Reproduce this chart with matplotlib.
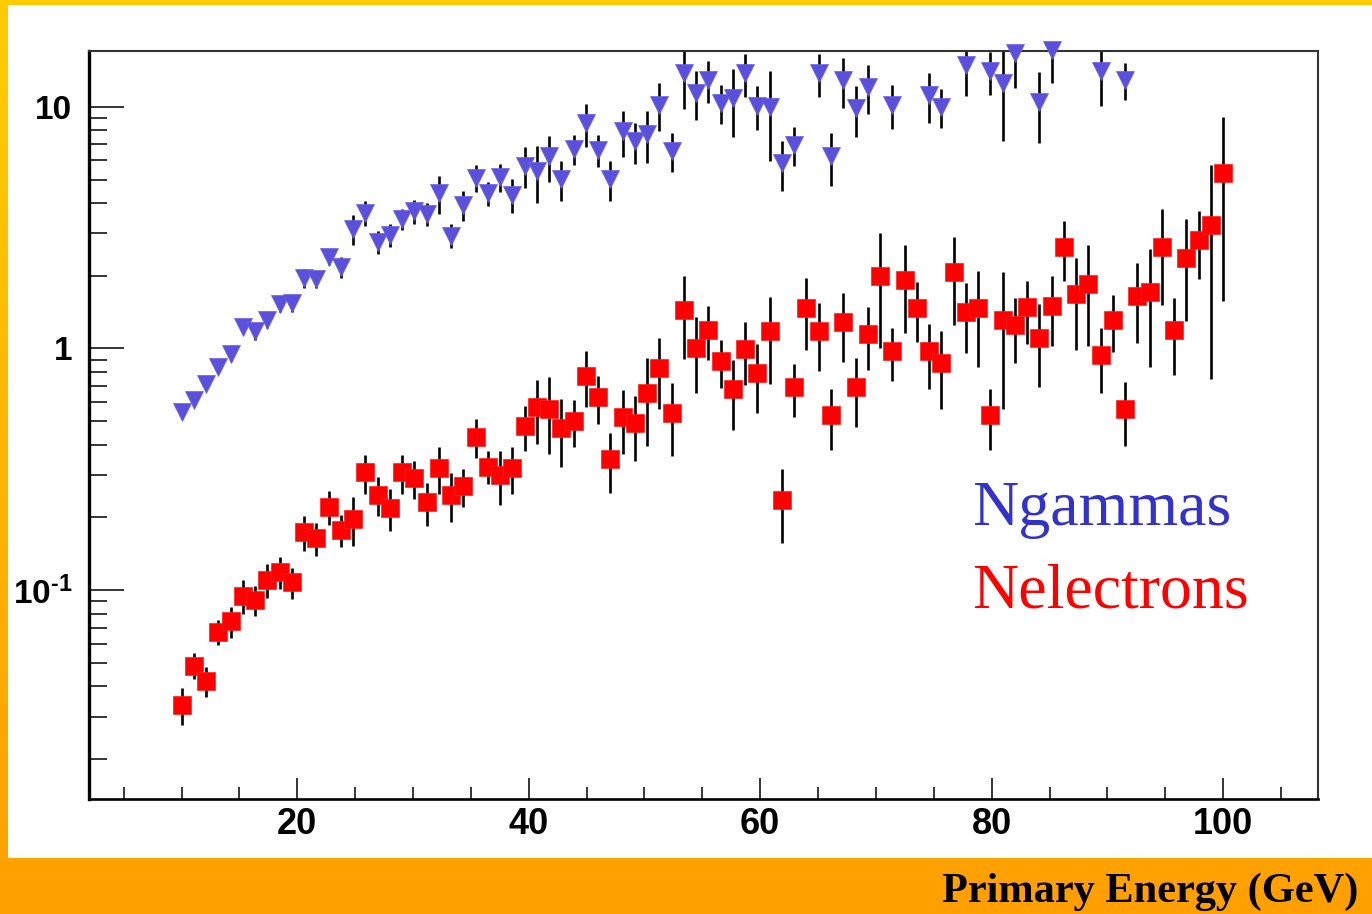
import numpy as np
import matplotlib
matplotlib.use("Agg")
import matplotlib.pyplot as plt
from matplotlib.patches import Rectangle
from matplotlib.ticker import FixedLocator, FixedFormatter, LogLocator, MultipleLocator, NullFormatter

# primary energy (GeV) of each point
energy = [10.00, 11.06, 12.12, 13.18, 14.24, 15.29, 16.35, 17.41, 18.47, 19.53,
          20.59, 21.65, 22.71, 23.76, 24.82, 25.88, 26.94, 28.00, 29.06, 30.12,
          31.18, 32.24, 33.29, 34.35, 35.41, 36.47, 37.53, 38.59, 39.65, 40.71,
          41.76, 42.82, 43.88, 44.94, 46.00, 47.06, 48.12, 49.18, 50.24, 51.29,
          52.35, 53.41, 54.47, 55.53, 56.59, 57.65, 58.71, 59.76, 60.82, 61.88,
          62.94, 64.00, 65.06, 66.12, 67.18, 68.24, 69.29, 70.35, 71.41, 72.47,
          73.53, 74.59, 75.65, 76.71, 77.76, 78.82, 79.88, 80.94, 82.00, 83.06,
          84.12, 85.18, 86.24, 87.29, 88.35, 89.41, 90.47, 91.53, 92.59, 93.65,
          94.71, 95.76, 96.82, 97.88, 98.94, 100.00]

n_electrons = [0.0336, 0.0488, 0.0422, 0.0675, 0.0743, 0.0951, 0.0912, 0.1105, 0.1195, 0.108,
               0.174, 0.164, 0.222, 0.178, 0.198, 0.307, 0.248, 0.219, 0.307, 0.291,
               0.231, 0.320, 0.248, 0.269, 0.432, 0.325, 0.300, 0.320, 0.476, 0.572,
               0.563, 0.471, 0.502, 0.773, 0.629, 0.350, 0.520, 0.491, 0.654, 0.834,
               0.540, 1.446, 1.004, 1.195, 0.884, 0.679, 0.994, 0.791, 1.176, 0.237,
               0.692, 1.469, 1.176, 0.532, 1.293, 0.692, 1.151, 2.00, 0.972, 1.924,
               1.469, 0.972, 0.870, 2.07, 1.414, 1.469, 0.532, 1.314, 1.245, 1.478,
               1.11, 1.506, 2.64, 1.68, 1.853, 0.936, 1.314, 0.561, 1.652, 1.712,
               2.64, 1.195, 2.366, 2.816, 3.25, 5.32]

err_electrons = [0.006, 0.006, 0.006, 0.008, 0.011, 0.015, 0.013, 0.018, 0.018, 0.016,
                 0.028, 0.026, 0.036, 0.027, 0.046, 0.056, 0.046, 0.043, 0.056, 0.052,
                 0.047, 0.071, 0.057, 0.048, 0.079, 0.050, 0.075, 0.071, 0.10, 0.17,
                 0.196, 0.146, 0.111, 0.20, 0.14, 0.097, 0.155, 0.148, 0.26, 0.27,
                 0.18, 0.54, 0.35, 0.30, 0.20, 0.22, 0.29, 0.25, 0.46, 0.08,
                 0.17, 0.48, 0.37, 0.15, 0.41, 0.22, 0.34, 1.0, 0.24, 0.76,
                 0.41, 0.29, 0.31, 0.82, 0.46, 0.63, 0.15, 0.75, 0.37, 0.43,
                 0.42, 0.48, 0.74, 0.69, 0.83, 0.28, 0.35, 0.165, 0.60, 0.87,
                 1.13, 0.42, 1.07, 0.88, 2.5, 3.75]

# gammas: points above the frame are not drawn
gamma_energy = [10.00, 11.06, 12.12, 13.18, 14.24, 15.29, 16.35, 17.41, 18.47, 19.53,
                20.59, 21.65, 22.71, 23.76, 24.82, 25.88, 26.94, 28.00, 29.06, 30.12,
                31.18, 32.24, 33.29, 34.35, 35.41, 36.47, 37.53, 38.59, 39.65, 40.71,
                41.76, 42.82, 43.88, 44.94, 46.00, 47.06, 48.12, 49.18, 50.24, 51.29,
                52.35, 53.41, 54.47, 55.53, 56.59, 57.65, 58.71, 59.76, 60.82, 61.88,
                62.94, 65.06, 66.12, 67.18, 68.24, 69.29, 71.41, 74.59, 75.65, 77.76,
                79.88, 80.94, 82.00, 84.12, 85.18, 89.41, 91.53]

n_gammas = [0.547, 0.613, 0.712, 0.842, 0.948, 1.233, 1.176, 1.314, 1.531, 1.54,
            1.956, 1.94, 2.40, 2.18, 3.12, 3.63, 2.77, 2.95, 3.43, 3.70,
            3.61, 4.39, 2.93, 3.93, 5.07, 4.39, 5.12, 4.32, 5.70, 5.43,
            6.23, 5.02, 6.68, 8.56, 6.64, 5.02, 7.90, 7.19, 7.71, 10.2,
            6.58, 13.8, 11.4, 12.9, 10.4, 10.9, 13.8, 10.1, 10.0, 5.85,
            6.96, 13.8, 6.23, 12.9, 9.88, 12.1, 10.2, 11.2, 10.0, 14.9,
            14.0, 12.5, 16.7, 10.5, 17.2, 14.0, 12.9]

err_gammas = [0.03, 0.03, 0.035, 0.04, 0.06, 0.09, 0.09, 0.095, 0.11, 0.12,
              0.18, 0.16, 0.18, 0.22, 0.45, 0.43, 0.30, 0.33, 0.35, 0.42,
              0.39, 0.8, 0.33, 0.55, 0.65, 0.5, 0.68, 0.7, 1.1, 1.45,
              1.35, 0.95, 0.95, 1.75, 1.0, 0.95, 1.7, 1.4, 1.85, 2.3,
              1.2, 4.0, 2.6, 2.5, 1.9, 3.4, 2.8, 2.1, 4.05, 1.35,
              1.25, 2.8, 1.55, 3.0, 2.35, 2.75, 2.15, 2.65, 1.8, 3.8,
              2.8, 5.3, 4.7, 3.45, 4.7, 3.9, 2.2]

plt.rcParams['mathtext.fontset'] = 'custom'
plt.rcParams['mathtext.rm'] = 'Liberation Sans:bold'
plt.rcParams['mathtext.bf'] = 'Liberation Sans:bold'

W, H = 1372, 914
fig = plt.figure(figsize=(W / 100, H / 100), dpi=100)

# yellow-to-orange frame and white panel
bg = fig.add_axes([0, 0, 1, 1], zorder=-10)
grad = np.linspace(0, 1, 256)[:, None]
top_c = np.array([1.0, 0.80, 0.0])
bot_c = np.array([1.0, 0.627, 0.0])
img = top_c[None, None, :] * (1 - grad[:, :, None]) + bot_c[None, None, :] * grad[:, :, None]
bg.imshow(img, aspect='auto', extent=[0, 1, 0, 1], origin='upper')
bg.add_patch(Rectangle((8 / W, 56 / H), 1 - 8 / W, 853 / H, facecolor='white', edgecolor='none'))
bg.set_xlim(0, 1)
bg.set_ylim(0, 1)
bg.axis('off')

ax = fig.add_axes([89 / W, 1 - 799 / H, (1318 - 89) / W, (799 - 51) / H])
ax.set_facecolor('white')
ax.set_yscale('log')
ax.set_xlim(2.0, 108.2)
ax.set_ylim(0.0137, 17.0)

ax.errorbar(energy, n_electrons, yerr=err_electrons, fmt='none', ecolor='black',
            elinewidth=1.9, capsize=0, zorder=2)
ax.errorbar(gamma_energy, n_gammas, yerr=err_gammas, fmt='none', ecolor='black',
            elinewidth=1.9, capsize=0, zorder=2)
ax.plot(energy, n_electrons, ls='none', marker='s', ms=12.5, color='#FF0000',
        mec='#FF2020', mew=0.5, zorder=3, clip_on=False)
ax.plot(gamma_energy, n_gammas, ls='none', marker='v', ms=13, color='#5A50DC',
        mec='#6A62E4', mew=0.5, zorder=3, clip_on=False)

# axes frame
for side in ['top', 'right']:
    ax.spines[side].set_linewidth(1.5)
    ax.spines[side].set_color('#333333')
ax.spines['left'].set_linewidth(2.4)
ax.spines['bottom'].set_linewidth(1.9)

ax.yaxis.set_major_locator(FixedLocator([0.1, 1, 10]))
ax.yaxis.set_major_formatter(FixedFormatter([r'$\mathbf{10^{\text{-}1}}$', '1', '10']))
ax.yaxis.set_minor_locator(LogLocator(base=10, subs=np.arange(2, 10)))
ax.yaxis.set_minor_formatter(NullFormatter())
ax.xaxis.set_major_locator(MultipleLocator(20))
ax.xaxis.set_minor_locator(MultipleLocator(5))

ax.tick_params(axis='y', which='major', direction='in', length=25, width=1.1, pad=12,
               labelsize=24, right=False)
ax.tick_params(axis='y', which='minor', direction='in', length=13, width=1.1, right=False)
ax.tick_params(axis='x', which='major', direction='in', length=15, width=1.1, pad=6,
               labelsize=26, top=False)
ax.tick_params(axis='x', which='minor', direction='in', length=9, width=1.1, top=False)
for lab in ax.get_xticklabels() + ax.get_yticklabels():
    lab.set_fontfamily('Liberation Sans')
    lab.set_fontweight('bold')

fig.text(972 / W, 1 - 525 / H, 'Ngammas', color='#3333CC', fontsize=46,
         family='Liberation Serif', ha='left', va='baseline')
fig.text(972 / W, 1 - 608 / H, 'Nelectrons', color='#FF0000', fontsize=46,
         family='Liberation Serif', ha='left', va='baseline')
fig.text(1358 / W, 1 - 902 / H, 'Primary Energy (GeV)', color='black', fontsize=30.5,
         family='Liberation Serif', weight='bold', ha='right', va='baseline')

fig.savefig('out.png', dpi=100)
